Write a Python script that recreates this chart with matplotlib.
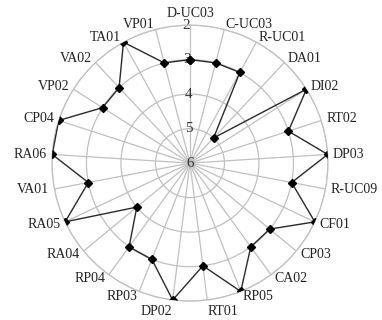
import numpy as np
import matplotlib.pyplot as plt

plt.rcParams['font.family'] = ['Liberation Serif', 'DejaVu Serif']

categories = ['D-UC03', 'C-UC03', 'R-UC01', 'DA01', 'DI02', 'RT02', 'DP03',
              'R-UC09', 'CF01', 'CP03', 'CA02', 'RP05', 'RT01', 'DP02',
              'RP03', 'RP04', 'RA04', 'RA05', 'VA01', 'RA06', 'CP04',
              'VP02', 'VA02', 'TA01', 'VP01']
values = [3, 3, 3, 5, 2, 3, 2, 3, 2, 3, 3, 2, 3, 2, 3, 3, 4, 2, 3, 2, 2,
          3, 3, 2, 3]
rticks = [2, 3, 4, 5, 6]

n = len(categories)
angles = np.linspace(0, 2 * np.pi, n, endpoint=False)
ang_c = np.append(angles, angles[0])
val_c = np.append(values, values[0])

fig = plt.figure(figsize=(3.82, 3.2), dpi=100)
ax = fig.add_axes([0.136, 0.059, 0.7225, 0.8625], projection='polar')
ax.set_theta_zero_location('N')
ax.set_theta_direction(-1)

ax.plot(ang_c, val_c, color='#2a2a2a', lw=1.0, marker='D', ms=4.5,
        mfc='black', mec='black', zorder=5)

ax.set_ylim(6, 2)
ax.set_yticks(rticks)
ax.set_yticklabels([str(t) for t in rticks], fontsize=11, color='#333333')
ax.set_rlabel_position(-1.5)
for lab in ax.get_yticklabels():
    lab.set_va('center')
    lab.set_ha('center')
ax.tick_params(axis='y', pad=0)

ax.set_xticks(angles)
ax.set_xticklabels(categories, fontsize=10, color='#222222')
ax.tick_params(axis='x', pad=-6.8)
# anchor each category label by its edge nearest the circle
for lab, a in zip(ax.get_xticklabels(), angles):
    s, c = np.sin(a), np.cos(a)
    lab.set_ha('left' if s > 0.01 else ('right' if s < -0.01 else 'center'))
    lab.set_va('bottom' if c > 0.99 else ('top' if c < -0.95 else 'center'))

ax.grid(True, color='#c0c0c0', lw=0.9)
ax.spines['polar'].set_color('#c0c0c0')
ax.spines['polar'].set_linewidth(0.9)

fig.savefig('out.png', dpi=100)
